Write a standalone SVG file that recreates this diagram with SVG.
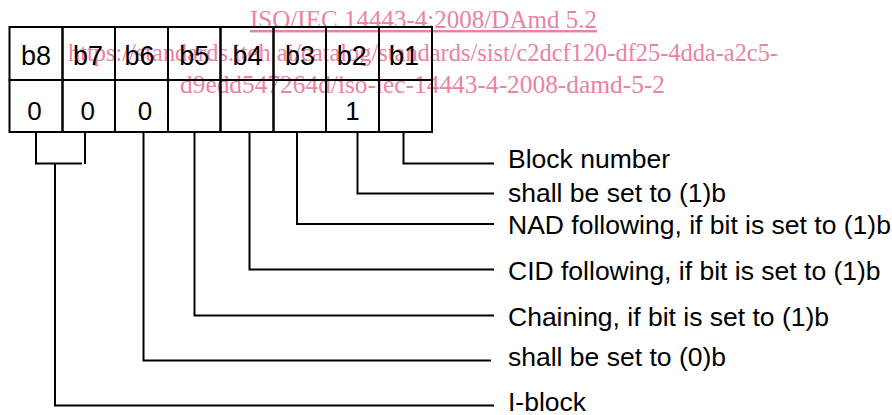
<svg xmlns="http://www.w3.org/2000/svg" width="892" height="415" viewBox="0 0 892 415">
<style>
.wm{font-family:"Liberation Serif","Times New Roman",serif;font-size:24.5px;fill:#ec82a3;text-anchor:middle}
.cell{fill:none;stroke:#000;stroke-width:2}
.bt{font-family:"Liberation Sans",Arial,sans-serif;font-size:27px;text-anchor:middle;fill:#000}
.vt{font-family:"Liberation Sans",Arial,sans-serif;font-size:26px;text-anchor:middle;fill:#000}
.lb{font-family:"Liberation Sans",Arial,sans-serif;font-size:26.5px;fill:#000}
.cn{fill:none;stroke:#000;stroke-width:2}
</style>
<rect width="892" height="415" fill="#fff"/>
<g id="watermark">
<text class="wm" x="423.5" y="28" textLength="347" lengthAdjust="spacingAndGlyphs" text-decoration="underline">ISO/IEC 14443-4:2008/DAmd 5.2</text>
<text class="wm" x="423" y="61" textLength="710" lengthAdjust="spacingAndGlyphs">https://standards.iteh.ai/catalog/standards/sist/c2dcf120-df25-4dda-a2c5-</text>
<text class="wm" x="422.5" y="93" textLength="485" lengthAdjust="spacingAndGlyphs">d9edd547264d/iso-iec-14443-4-2008-damd-5-2</text>
</g>
<g id="bit-b8"><rect class="cell" x="9.5" y="27" width="53" height="53"/><rect class="cell" x="9.5" y="80" width="53" height="52"/><text class="bt" x="36" y="65">b8</text><text class="vt" x="34.5" y="120">0</text></g>
<g id="bit-b7"><rect class="cell" x="62.5" y="27" width="52.5" height="53"/><rect class="cell" x="62.5" y="80" width="52.5" height="52"/><text class="bt" x="88" y="65">b7</text><text class="vt" x="87.7" y="120">0</text></g>
<g id="bit-b6"><rect class="cell" x="115" y="27" width="53" height="53"/><rect class="cell" x="115" y="80" width="53" height="52"/><text class="bt" x="139.5" y="65">b6</text><text class="vt" x="145" y="120">0</text></g>
<g id="bit-b5"><rect class="cell" x="168" y="27" width="52.5" height="53"/><rect class="cell" x="168" y="80" width="52.5" height="52"/><text class="bt" x="194.2" y="65">b5</text></g>
<g id="bit-b4"><rect class="cell" x="220.5" y="27" width="53" height="53"/><rect class="cell" x="220.5" y="80" width="53" height="52"/><text class="bt" x="247.5" y="65">b4</text></g>
<g id="bit-b3"><rect class="cell" x="273.5" y="27" width="52.5" height="53"/><rect class="cell" x="273.5" y="80" width="52.5" height="52"/><text class="bt" x="300" y="65">b3</text></g>
<g id="bit-b2"><rect class="cell" x="326" y="27" width="53" height="53"/><rect class="cell" x="326" y="80" width="53" height="52"/><text class="bt" x="351.7" y="65">b2</text><text class="vt" x="352.5" y="120">1</text></g>
<g id="bit-b1"><rect class="cell" x="379" y="27" width="53" height="53"/><rect class="cell" x="379" y="80" width="53" height="52"/><text class="bt" x="404" y="65">b1</text></g>
<g id="connectors">
<path class="cn" d="M403.5 132V163.5H494"/>
<path class="cn" d="M357.5 132V193.5H494"/>
<path class="cn" d="M297 132V224H494"/>
<path class="cn" d="M249.5 132V269.5H494"/>
<path class="cn" d="M194.5 132V315.5H494"/>
<path class="cn" d="M143.5 132V360.5H491"/>
<path class="cn" d="M36 132V163.5H82"/>
<path class="cn" d="M85 132V164"/>
<path class="cn" d="M55 163.5V405.5H494"/>
</g>
<g id="label-block-number"><text class="lb" x="508" y="168">Block number</text></g>
<g id="label-b2"><text class="lb" x="508" y="201.5">shall be set to (1)b</text></g>
<g id="label-nad"><text class="lb" x="508" y="233.5">NAD following, if bit is set to (1)b</text></g>
<g id="label-cid"><text class="lb" x="508" y="280">CID following, if bit is set to (1)b</text></g>
<g id="label-chaining"><text class="lb" x="508" y="325.5">Chaining, if bit is set to (1)b</text></g>
<g id="label-b6"><text class="lb" x="508" y="366">shall be set to (0)b</text></g>
<g id="label-iblock"><text class="lb" x="508" y="411">I-block</text></g>
</svg>
